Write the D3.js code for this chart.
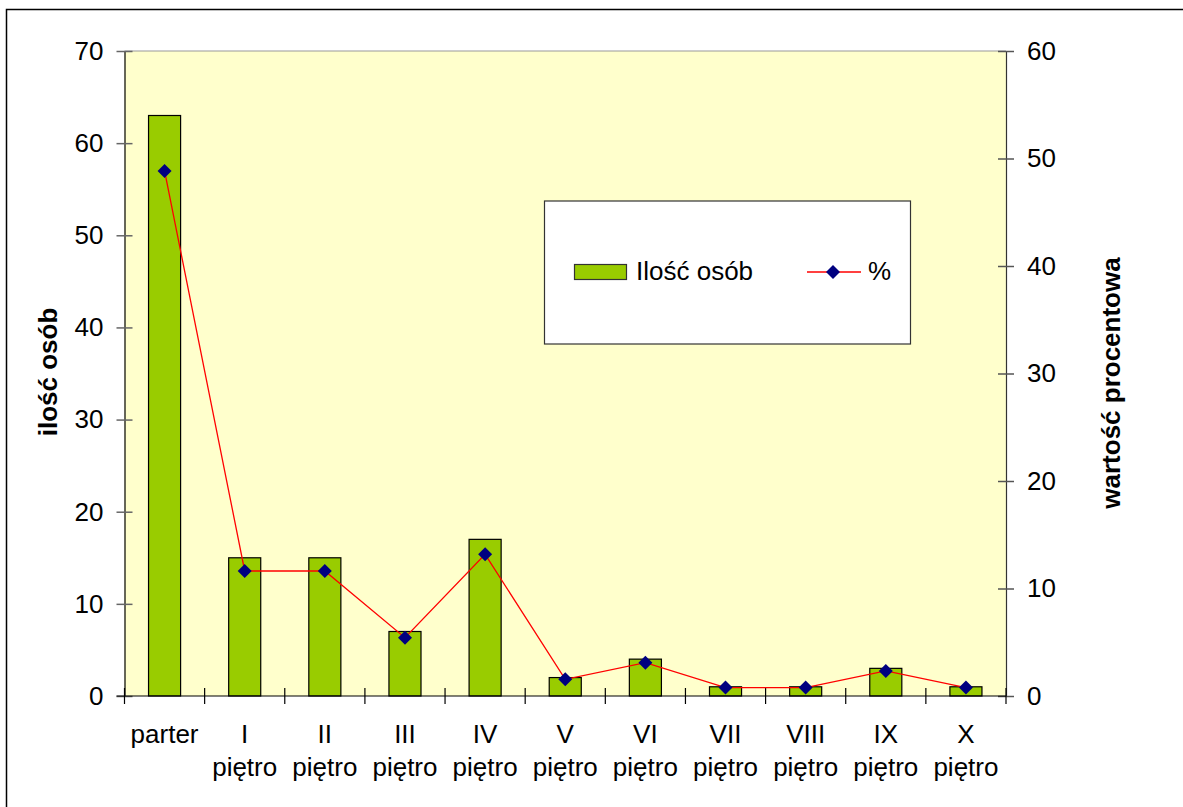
<!DOCTYPE html>
<html><head><meta charset="utf-8">
<script src="https://cdn.jsdelivr.net/npm/d3@7"></script>
<style>body{margin:0;background:#fff}svg{display:block}text{font-family:"Liberation Sans",Arial,sans-serif}</style>
</head><body><svg id="c" width="1183" height="807"></svg>
<script>
const categories = [["parter"],["I","piętro"],["II","piętro"],["III","piętro"],["IV","piętro"],["V","piętro"],["VI","piętro"],["VII","piętro"],["VIII","piętro"],["IX","piętro"],["X","piętro"]];
const counts = [63,15,15,7,17,2,4,1,1,3,1];
const percents = [48.84,11.63,11.63,5.43,13.18,1.55,3.10,0.78,0.78,2.33,0.78];
const leftTicks = [0,10,20,30,40,50,60,70];
const rightTicks = [0,10,20,30,40,50,60];

const svg = d3.select("#c");
const L=124.5, R=1006, T=51, B=696;
svg.append("rect").attr("x",6.5).attr("y",9.5).attr("width",1190).attr("height",810).attr("fill","#fff").attr("stroke","#000").attr("stroke-width",1.5);
svg.append("rect").attr("x",L).attr("y",T).attr("width",R-L).attr("height",B-T).attr("fill","#FFFFCC");
svg.append("line").attr("x1",L).attr("x2",R).attr("y1",T).attr("y2",T).attr("stroke","#999");

const x = d3.scaleBand().domain(d3.range(categories.length)).range([L,R]).paddingInner(0).paddingOuter(0);
const yL = d3.scaleLinear().domain([0,70]).range([B,T]);
const yR = d3.scaleLinear().domain([0,60]).range([B,T]);

// bars
const bw = x.bandwidth()*0.4;
svg.append("g").selectAll("rect").data(counts).join("rect")
  .attr("x",(d,i)=>x(i)+x.bandwidth()/2-bw/2).attr("width",bw)
  .attr("y",d=>yL(d)).attr("height",d=>B-yL(d))
  .attr("fill","#99CC00").attr("stroke","#000").attr("stroke-width",1.2);

// left axis
const gl = svg.append("g").attr("transform",`translate(${L},0)`)
  .call(d3.axisLeft(yL).tickValues(leftTicks).tickSize(0).tickPadding(21));
gl.select(".domain").attr("stroke","#000").attr("stroke-width",1.2);
gl.selectAll("text").attr("font-size",26).attr("fill","#000");
gl.selectAll(".tick").append("line").attr("x1",-8).attr("x2",8).attr("stroke","#666").attr("stroke-width",1.5);

// right axis
const gr = svg.append("g").attr("transform",`translate(${R},0)`)
  .call(d3.axisRight(yR).tickValues(rightTicks).tickSize(0).tickPadding(21));
gr.select(".domain").attr("stroke","#333").attr("stroke-width",1.2);
gr.selectAll("text").attr("font-size",26).attr("fill","#000");
gr.selectAll(".tick").append("line").attr("x1",-8).attr("x2",8).attr("stroke","#555").attr("stroke-width",1.5);

// bottom axis
svg.append("line").attr("x1",L-8).attr("x2",R).attr("y1",B).attr("y2",B).attr("stroke","#000").attr("stroke-width",1.2);
const bounds = d3.range(categories.length+1).map(i=> i<categories.length ? x(i) : R);
svg.append("g").selectAll("line").data(bounds).join("line")
  .attr("x1",d=>d).attr("x2",d=>d).attr("y1",B-8).attr("y2",B+8).attr("stroke","#000").attr("stroke-width",1.2);
const cl = svg.append("g").selectAll("text").data(categories).join("text")
  .attr("x",(d,i)=>x(i)+x.bandwidth()/2).attr("y",743).attr("text-anchor","middle").attr("font-size",26);
cl.selectAll("tspan").data(d=>d).join("tspan")
  .attr("x",function(){return this.parentNode.getAttribute("x");})
  .attr("dy",(d,i)=>i===0?0:33).text(d=>d);

// line + markers
const line = d3.line().x((d,i)=>x(i)+x.bandwidth()/2).y(d=>yR(d));
svg.append("path").datum(percents).attr("d",line).attr("fill","none").attr("stroke","#FF0000").attr("stroke-width",1.3);
const diamond = "M0,-7L7,0L0,7L-7,0Z";
svg.append("g").selectAll("path").data(percents).join("path")
  .attr("transform",(d,i)=>`translate(${x(i)+x.bandwidth()/2},${yR(d)})`)
  .attr("d",diamond).attr("fill","#000080");

// axis titles
svg.append("text").attr("transform","translate(57,372) rotate(-90)").attr("text-anchor","middle")
  .attr("font-size",26).attr("font-weight","bold").text("ilość osób");
svg.append("text").attr("transform","translate(1120,383) rotate(-90)").attr("text-anchor","middle")
  .attr("font-size",26).attr("font-weight","bold").text("wartość procentowa");

// legend
const lg = svg.append("g");
lg.append("rect").attr("x",544.5).attr("y",201).attr("width",366).attr("height",143).attr("fill","#fff").attr("stroke","#333").attr("stroke-width",1.2);
lg.append("rect").attr("x",574.5).attr("y",264.5).attr("width",52).attr("height",15).attr("fill","#99CC00").attr("stroke","#333").attr("stroke-width",1.2);
lg.append("text").attr("x",636).attr("y",280).attr("font-size",26).text("Ilość osób");
lg.append("line").attr("x1",807).attr("x2",861).attr("y1",272).attr("y2",272).attr("stroke","#FF0000").attr("stroke-width",1.3);
lg.append("path").attr("transform","translate(833,272)").attr("d",diamond).attr("fill","#000080");
lg.append("text").attr("x",868).attr("y",280).attr("font-size",26).text("%");
</script></body></html>
